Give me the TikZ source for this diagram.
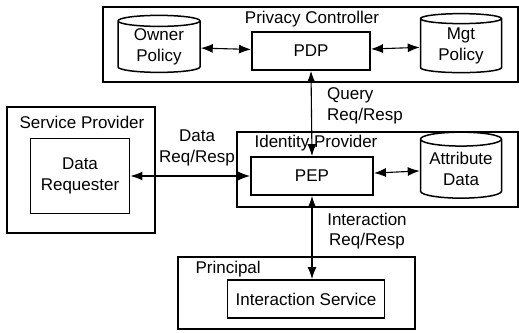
\documentclass[tikz,border=0pt]{standalone}
\usepackage{fontspec}
\setmainfont{Liberation Sans}
\usepackage{tikz}
\usetikzlibrary{arrows.meta,positioning,shapes.geometric,calc}

\tikzset{
  group/.style={line width=2.2pt},
  block/.style={draw,line width=1.9pt,rectangle,align=center,inner sep=0pt},
  store/.style={draw,line width=1.5pt,cylinder,shape border rotate=90,aspect=0.22,
    align=center,inner sep=0pt},
  link/.style={line width=1.1pt,{Latex[length=12pt,width=9pt]}-{Latex[length=12pt,width=9pt]}},
  note/.style={align=center,inner sep=0pt}
}

\begin{document}
\begin{tikzpicture}[x=1pt,y=-1pt,font=\fontsize{17}{20.5}\selectfont]
  \useasboundingbox (0,0) rectangle (519,332);
  % frames
  \draw[group] (103,7) rectangle (518,82);
  \draw[group] (237,132) rectangle (518,207);
  \draw[group] (7,107) rectangle (155,233);
  \draw[group] (178,257) rectangle (415,329);
  \node (pctitle) at (312,19) {Privacy Controller};
  \node (iptitle) at (316,143) {Identity Provider};
  \node (sptitle) at (82,122) {Service Provider};
  \node[anchor=west] (prtitle) at (192,269) {Principal};

  % components
  \node[block,minimum width=118,minimum height=38] (pdp) at (311,51) {PDP};
  \node[block,minimum width=122,minimum height=38] (pep) at (312,176) {PEP};
  \node[block,minimum width=99,minimum height=75] (dreq) at (80,176) {Data\\Requester};
  \node[block,minimum width=157,minimum height=38] (isvc) at (306,299) {Interaction Service};
  \node[store,minimum width=82,minimum height=57] (owner) at (159,47) {Owner\\Policy};
  \node[store,minimum width=81,minimum height=59] (mgt) at (461,46) {Mgt\\Policy};
  \node[store,minimum width=81,minimum height=66] (attr) at (461,169) {Attribute\\Data};

  % connectors
  \draw[link] (owner) -- (pdp);
  \draw[link] (pdp) -- (mgt);
  \draw[link] (pep) -- (attr);
  \draw[link] (pdp.south) -- (pep.north);
  \draw[link] (dreq.east) -- (pep.west);
  \draw[link] (pep.south) -- (pep.south |- isvc.north);

  % labels
  \node[note,align=left,anchor=west] (qlbl) at (327,106) {Query\\Req/Resp};
  \node[note] (dlbl) at (197,148) {Data\\Req/Resp};
  \node[note] (ilbl) at (367,231) {Interaction\\Req/Resp};
\end{tikzpicture}
\end{document}
